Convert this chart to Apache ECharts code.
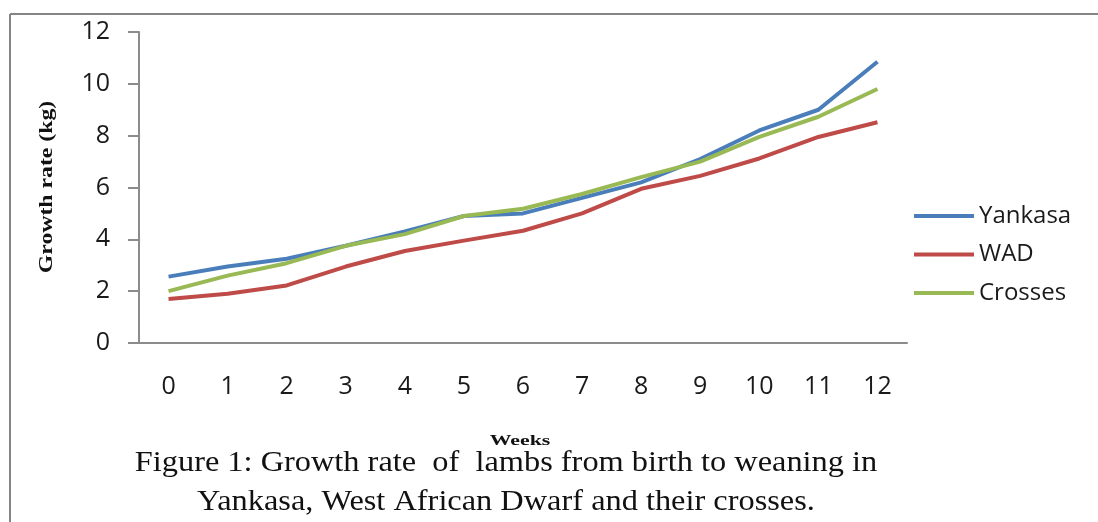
<!DOCTYPE html>
<html>
<head>
<meta charset="utf-8">
<script src="https://cdn.jsdelivr.net/npm/echarts@6/dist/echarts.min.js"></script>
<style>
  html, body { margin: 0; padding: 0; background: #ffffff; }
  #chart { width: 1098px; height: 522px; }
</style>
</head>
<body>
<div id="chart"></div>
<script>
// weeks from birth to weaning
const weeks = ["0", "1", "2", "3", "4", "5", "6", "7", "8", "9", "10", "11", "12"];

// growth (kg)
const yankasa = [2.56, 2.95, 3.25, 3.75, 4.3, 4.9, 5.0, 5.6, 6.2, 7.1, 8.2, 9.0, 10.85];
const wad = [1.7, 1.9, 2.22, 2.95, 3.55, 3.95, 4.33, 5.0, 5.95, 6.45, 7.12, 7.95, 8.52];
const crosses = [2.0, 2.6, 3.08, 3.75, 4.2, 4.9, 5.18, 5.75, 6.4, 7.0, 7.95, 8.73, 9.8];

const yTicks = { min: 0, max: 12, interval: 2 };

const colors = { yankasa: "#4a7ebb", wad: "#be4b48", crosses: "#98b954" };
const axisGray = "#8c8c8c";

const chart = echarts.init(document.getElementById("chart"));

const makeLine = (name, values, color) => ({
  name,
  type: "line",
  data: values,
  showSymbol: false,
  symbol: "none",
  smooth: false,
  lineStyle: { color, width: 4 },
  itemStyle: { color },
});

chart.setOption({
  animation: false,
  grid: { left: 139, top: 32, right: 191, bottom: 179 },
  legend: {
    orient: "vertical",
    left: 909,
    top: 198,
    icon: "rect",
    itemWidth: 60,
    itemHeight: 4,
    itemGap: 12.5,
    itemTextGap: 4,
    textStyle: { fontFamily: "Open Sans", fontSize: 24, lineHeight: 26, color: "#1a1a1a" },
    data: ["Yankasa", "WAD", "Crosses"],
  },
  xAxis: {
    type: "category",
    data: weeks,
    boundaryGap: true,
    axisLine: { lineStyle: { color: axisGray, width: 2 } },
    axisTick: { show: false },
    axisLabel: { fontFamily: "Open Sans", fontSize: 25, color: "#1a1a1a", margin: 31 },
  },
  yAxis: {
    type: "value",
    min: yTicks.min,
    max: yTicks.max,
    interval: yTicks.interval,
    axisLine: { show: true, lineStyle: { color: axisGray, width: 2 } },
    axisTick: { show: true, length: 11, lineStyle: { color: axisGray, width: 2 } },
    axisLabel: { fontFamily: "Open Sans", fontSize: 25, color: "#1a1a1a", margin: 29 },
    splitLine: { show: false },
  },
  graphic: [
    // frame round the figure (top and left edges only show)
    { type: "line", shape: { x1: 10, y1: 14, x2: 1098, y2: 14 }, style: { stroke: "#858585", lineWidth: 2 } },
    { type: "line", shape: { x1: 10, y1: 14, x2: 10, y2: 522 }, style: { stroke: "#858585", lineWidth: 2 } },
    {
      type: "text",
      x: 47, y: 187,
      rotation: Math.PI / 2,
      scaleX: 1.25,
      style: {
        text: "Growth rate (kg)",
        font: "bold 19px 'Liberation Serif'",
        fill: "#111111",
        align: "center",
        verticalAlign: "middle",
      },
    },
    {
      type: "text",
      x: 520, y: 441,
      scaleX: 1.45,
      style: {
        text: "Weeks",
        font: "bold 15px 'Liberation Serif'",
        fill: "#111111",
        align: "center",
        verticalAlign: "middle",
      },
    },
    {
      type: "text",
      x: 506, y: 463,
      scaleX: 1.116,
      style: {
        text: "Figure 1: Growth rate  of  lambs from birth to weaning in",
        font: "29px 'Liberation Serif'",
        fill: "#111111",
        align: "center",
        verticalAlign: "middle",
      },
    },
    {
      type: "text",
      x: 506, y: 502,
      scaleX: 1.116,
      style: {
        text: "Yankasa, West African Dwarf and their crosses.",
        font: "29px 'Liberation Serif'",
        fill: "#111111",
        align: "center",
        verticalAlign: "middle",
      },
    },
  ],
  series: [
    makeLine("Yankasa", yankasa, colors.yankasa),
    makeLine("WAD", wad, colors.wad),
    makeLine("Crosses", crosses, colors.crosses),
  ],
});
</script>
</body>
</html>
